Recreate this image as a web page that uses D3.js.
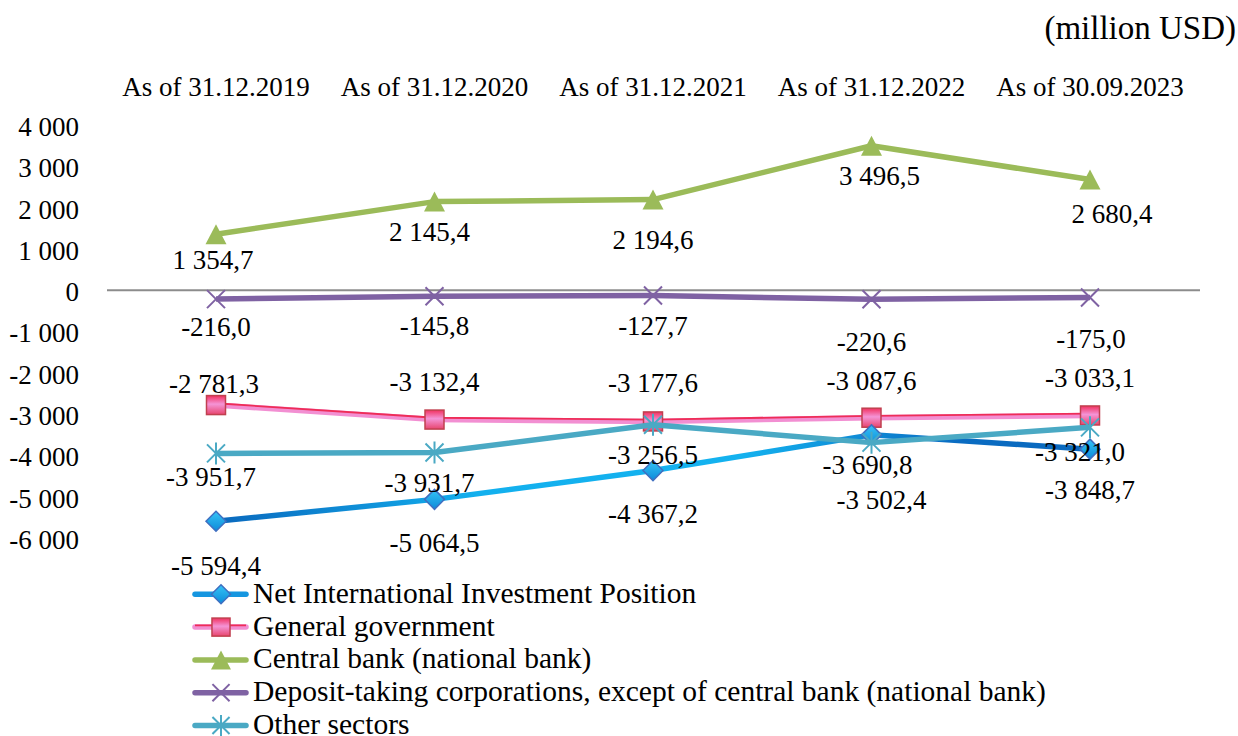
<!DOCTYPE html>
<html><head><meta charset="utf-8">
<script src="https://cdn.jsdelivr.net/npm/d3@7"></script>
<style>
body{margin:0;background:#fff;}
</style></head>
<body><svg id="c" width="1238" height="736" font-family="'Liberation Serif', 'Times New Roman', serif"></svg>
<script>
const categories = ["As of 31.12.2019","As of 31.12.2020","As of 31.12.2021","As of 31.12.2022","As of 30.09.2023"];
const seriesNames = ["Net International Investment Position","General government","Central bank (national bank)","Deposit-taking corporations, except of central bank (national bank)","Other sectors"];
const niip = [-5594.4,-5064.5,-4367.2,-3502.4,-3848.7];
const generalGov = [-2781.3,-3132.4,-3177.6,-3087.6,-3033.1];
const centralBank = [1354.7,2145.4,2194.6,3496.5,2680.4];
const depositTaking = [-216.0,-145.8,-127.7,-220.6,-175.0];
const otherSectors = [-3951.7,-3931.7,-3256.5,-3690.8,-3321.0];
const yTicks = [4000,3000,2000,1000,0,-1000,-2000,-3000,-4000,-5000,-6000];
const unitLabel = "(million USD)";

// label placement (pixel offsets from the point), layout only
const labelOffsets = [
  [[0,45],[0,44],[0,44],[10,65],[0,41]],
  [[-2,-21],[0,-37],[0,-38],[0,-37],[0,-37]],
  [[-3,26],[-5,30],[0,41],[8,30],[22,35]],
  [[0,28],[0,30],[0,31],[0,43],[1,42]],
  [[-5,24],[-5,31],[0,30],[-4,22],[-10,25]]
];

const fmt = v => {
  const neg = v < 0; const a = Math.abs(v).toFixed(1);
  let [i,d] = a.split(".");
  i = i.replace(/\B(?=(\d{3})+(?!\d))/g, " ");
  return (neg?"-":"") + i + "," + d;
};
const fmtTick = v => (v<0?"-":"") + String(Math.abs(v)).replace(/\B(?=(\d{3})+(?!\d))/g, " ");

const svg = d3.select("#c");
const x = d3.scalePoint().domain(categories).range([216,1090]);
const y = d3.scaleLinear().domain([-6000,4000]).range([538,125]);
const FS = 27;

const defs = svg.append("defs");
const g1 = defs.append("linearGradient").attr("id","gBlue").attr("gradientUnits","userSpaceOnUse")
  .attr("x1",216).attr("x2",1090).attr("y1",0).attr("y2",0);
[["0","#0a68bd"],["0.3","#13b0ee"],["0.6","#14b2ef"],["0.85","#0a6cc2"],["1","#0a68bd"]]
  .forEach(([o,c])=>g1.append("stop").attr("offset",o).attr("stop-color",c));
const gm = defs.append("linearGradient").attr("id","gBlueM").attr("x1",0).attr("x2",0).attr("y1",0).attr("y2",1);
gm.append("stop").attr("offset","0").attr("stop-color","#35c4f6");
gm.append("stop").attr("offset","1").attr("stop-color","#0d8ad9");
const gp = defs.append("linearGradient").attr("id","gPinkM").attr("x1",0).attr("x2",0).attr("y1",0).attr("y2",1);
gp.append("stop").attr("offset","0").attr("stop-color","#f2305f");
gp.append("stop").attr("offset","0.45").attr("stop-color","#f494d6");
gp.append("stop").attr("offset","1").attr("stop-color","#e8456e");

// y axis labels
svg.append("g").selectAll("text").data(yTicks).join("text")
  .attr("x",79).attr("y",d=>y(d)+2).attr("dy","0.33em").attr("text-anchor","end")
  .attr("font-size",FS).text(fmtTick);

// zero line
svg.append("line").attr("x1",107).attr("x2",1200).attr("y1",y(0)).attr("y2",y(0))
  .attr("stroke","#8c8c8c").attr("stroke-width",2);

// category labels at top
svg.append("g").selectAll("text").data(categories).join("text")
  .attr("x",d=>x(d)).attr("y",96).attr("text-anchor","middle").attr("font-size",FS).text(d=>d);

svg.append("text").attr("x",1236).attr("y",39).attr("text-anchor","end").attr("font-size",33).text(unitLabel);

const allSeries = [niip, generalGov, centralBank, depositTaking, otherSectors];
const styles = [
  {stroke:"url(#gBlue)", marker:"diamond"},
  {stroke:"#f28fd2", marker:"square"},
  {stroke:"#9bbb59", marker:"triangle"},
  {stroke:"#7f62a3", marker:"x"},
  {stroke:"#4aa9c4", marker:"star"}
];

function drawMarker(g, type, cx, cy, scale=1){
  const s = scale;
  if(type==="diamond"){
    g.append("path").attr("d",`M${cx},${cy-10*s}L${cx+10*s},${cy}L${cx},${cy+10*s}L${cx-10*s},${cy}Z`)
      .attr("fill","url(#gBlueM)").attr("stroke","#3f6fc0").attr("stroke-width",1.5);
  } else if(type==="square"){
    g.append("rect").attr("x",cx-9.5*s).attr("y",cy-9.5*s).attr("width",19*s).attr("height",19*s)
      .attr("fill","url(#gPinkM)").attr("stroke","#c0404f").attr("stroke-width",1.5);
  } else if(type==="triangle"){
    g.append("path").attr("d",`M${cx},${cy-10*s}L${cx+10.5*s},${cy+10*s}L${cx-10.5*s},${cy+10*s}Z`)
      .attr("fill","#9bbb59");
  } else if(type==="x"){
    g.append("path").attr("d",`M${cx-9*s},${cy-9*s}L${cx+9*s},${cy+9*s}M${cx+9*s},${cy-9*s}L${cx-9*s},${cy+9*s}`)
      .attr("stroke","#7f62a3").attr("stroke-width",2);
  } else if(type==="star"){
    g.append("path").attr("d",`M${cx-9*s},${cy-9*s}L${cx+9*s},${cy+9*s}M${cx+9*s},${cy-9*s}L${cx-9*s},${cy+9*s}M${cx},${cy-11*s}L${cx},${cy+11*s}`)
      .attr("stroke","#4aa9c4").attr("stroke-width",2);
  }
}

const line = d3.line().x((d,i)=>x(categories[i])).y(d=>y(d));
const drawOrder = [2,3,1,0,4];
drawOrder.forEach(si=>{
  const vals = allSeries[si], st = styles[si];
  const g = svg.append("g");
  g.append("path").datum(vals).attr("d",line).attr("fill","none")
    .attr("stroke",st.stroke).attr("stroke-width",5.5).attr("stroke-linejoin","round");
  if(si===1){
    g.append("path").datum(vals).attr("d",line).attr("fill","none")
      .attr("transform","translate(0,-1.8)")
      .attr("stroke","#ee2d58").attr("stroke-width",1.8);
  }
  vals.forEach((v,i)=>drawMarker(g, st.marker, x(categories[i]), y(v)));
});

// data labels
allSeries.forEach((vals,si)=>{
  svg.append("g").selectAll("text").data(vals).join("text")
    .attr("x",(d,i)=>x(categories[i])+labelOffsets[si][i][0])
    .attr("y",(d,i)=>y(d)+labelOffsets[si][i][1])
    .attr("dy","0.33em").attr("text-anchor","middle").attr("font-size",FS).text(fmt);
});

// legend
const leg = svg.append("g");
seriesNames.forEach((n,i)=>{
  const yy = 594.3 + i*32.8;
  const st = styles[i];
  const lg = leg.append("g");
  lg.append("line").attr("x1",195).attr("x2",246).attr("y1",yy).attr("y2",yy)
    .attr("stroke", i===0?"#1596e0":st.stroke).attr("stroke-width",5.5).attr("stroke-linecap","round");
  if(i===1) lg.append("line").attr("x1",195).attr("x2",246).attr("y1",yy-1.8).attr("y2",yy-1.8).attr("stroke","#ee2d58").attr("stroke-width",1.8);
  drawMarker(lg, st.marker, 221, yy, 0.95);
  lg.append("text").attr("x",253).attr("y",yy+8.5).attr("font-size",29.5).text(n);
});
</script></body></html>
